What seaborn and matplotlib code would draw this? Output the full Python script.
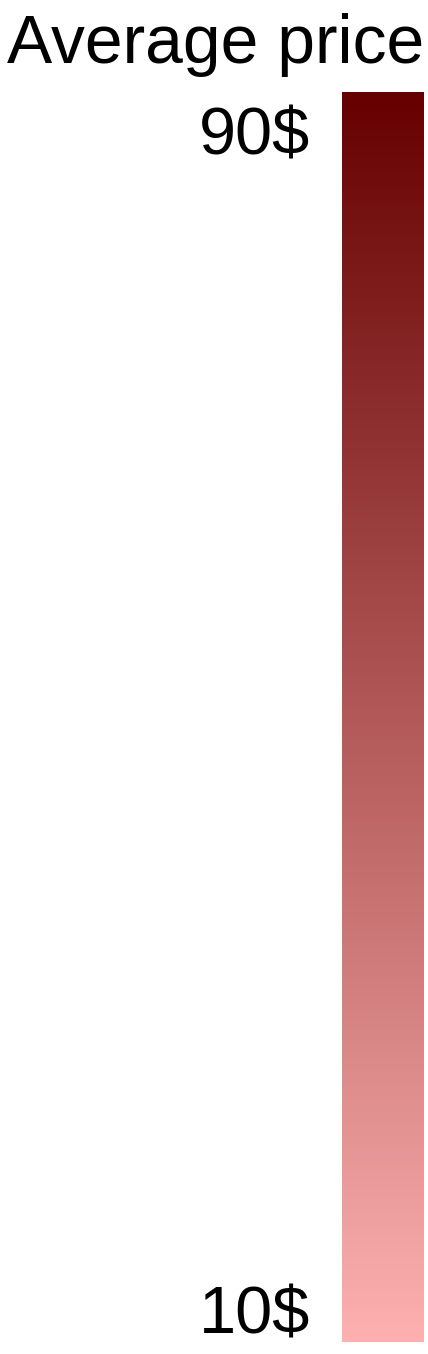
import matplotlib
matplotlib.use("Agg")
import matplotlib.pyplot as plt
import matplotlib.colors as mcolors
import matplotlib.colorbar as mcolorbar
import matplotlib.transforms as mtransforms
import seaborn as sns

# Data
title = "Average price"
price_min = 10
price_max = 90
tick_values = [10, 90]
tick_labels = ["10$", "90$"]
color_low = "#fdb0b0"
color_high = "#660000"

sns.set_theme(style="white")
plt.rcParams["font.family"] = ["Liberation Sans", "DejaVu Sans"]

W, H, DPI = 428, 1354, 100
fig = plt.figure(figsize=(W / DPI, H / DPI), dpi=DPI)
fig.patch.set_facecolor("white")

left, right, top, bottom = 342, 424, 92, 1342
cax = fig.add_axes([left / W, (H - bottom) / H, (right - left) / W, (bottom - top) / H])

cmap = sns.blend_palette([color_low, color_high], n_colors=256, as_cmap=True)
norm = mcolors.Normalize(vmin=price_min, vmax=price_max)
cb = mcolorbar.ColorbarBase(cax, cmap=cmap, norm=norm, orientation="vertical")
cb.outline.set_visible(False)
cax.set_yticks([])
cax.set_xticks([])

# tick labels placed through the axis' data scale
fs_tick = 48
fs_title = 48.8
offsets = {10: 25, 90: -45}  # px vertical shift (style only)
for v, lab in zip(tick_values, tick_labels):
    tr = cax.get_yaxis_transform() + mtransforms.ScaledTranslation(
        -32 / DPI, offsets[v] / DPI, fig.dpi_scale_trans)
    cax.text(0, v, lab, transform=tr, ha="right", va="center",
             fontsize=fs_tick, color="black")

cax.set_title(title, loc="right", fontsize=fs_title, pad=21, color="black")

fig.savefig("out.png", dpi=DPI, facecolor="white")
